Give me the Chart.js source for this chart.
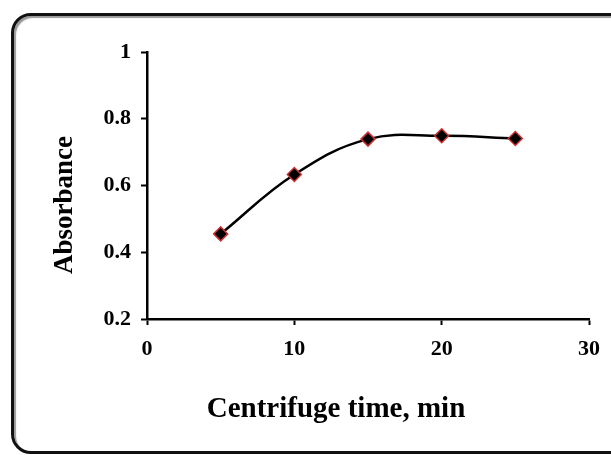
<!DOCTYPE html>
<html lang="en">
<head>
    <meta charset="UTF-8">
    <title>Centrifuge time</title>
    <script src="https://cdn.jsdelivr.net/npm/chart.js"></script>
    <style>
        html, body { margin: 0; padding: 0; background: #fff; }
        #wrap { position: relative; width: 611px; height: 455px; overflow: hidden; }
        #frame {
            position: absolute; left: 11px; top: 13px;
            width: 622px; height: 441px; box-sizing: border-box;
            border: 3px solid #111; border-radius: 20px;
            box-shadow: inset 2px 2px 1px #9a9a9a;
            pointer-events: none;
        }
        canvas { position: absolute; left: 0; top: 0; }
    </style>
</head>
<body>
    <div id="wrap">
        <canvas id="chart" width="611" height="455"></canvas>
        <div id="frame"></div>
    </div>
    <script>
        const times = [5, 10, 15, 20, 25];
        const absorbance = [0.455, 0.633, 0.739, 0.749, 0.741];
        const yTickLabels = ['0.2', '0.4', '0.6', '0.8', '1'];
        const xTickLabels = ['0', '10', '20', '30'];
        const xTitle = 'Centrifuge time, min';
        const yTitle = 'Absorbance';

        const serif = '"Liberation Serif", "Times New Roman", serif';

        // axis titles sit off-centre, so they are painted by hand
        const axisTitles = {
            id: 'axisTitles',
            afterDraw(chart) {
                const { ctx, chartArea } = chart;
                ctx.save();
                ctx.fillStyle = '#000';
                ctx.textAlign = 'center';
                ctx.textBaseline = 'alphabetic';
                ctx.font = 'bold 29px ' + serif;
                ctx.fillText(xTitle, chartArea.left + 189, chartArea.bottom + 98);
                ctx.font = 'bold 27px ' + serif;
                ctx.translate(chartArea.left - 75, chartArea.top + 153);
                ctx.rotate(-Math.PI / 2);
                ctx.fillText(yTitle, 0, 0);
                ctx.restore();
            }
        };

        const tickFont = { family: serif, size: 22, weight: 'bold' };

        new Chart(document.getElementById('chart'), {
            type: 'line',
            data: {
                datasets: [{
                    data: times.map((t, i) => ({ x: t, y: absorbance[i] })),
                    borderColor: '#000',
                    borderWidth: 2.5,
                    tension: 0.4,
                    pointStyle: 'rectRot',
                    pointRadius: 7,
                    pointBackgroundColor: '#000',
                    pointBorderColor: 'rgb(205, 50, 50)',
                    pointBorderWidth: 1.5
                }]
            },
            options: {
                responsive: false,
                animation: false,
                layout: { padding: { top: 52, right: 21, left: 0, bottom: 0 } },
                plugins: {
                    legend: { display: false },
                    tooltip: { enabled: false }
                },
                scales: {
                    x: {
                        type: 'linear',
                        min: 0,
                        max: 30,
                        afterFit: s => { s.height = 136; },
                        ticks: {
                            stepSize: 10,
                            color: '#000',
                            font: tickFont,
                            padding: 11,
                            maxRotation: 0,
                            callback: (v, i) => xTickLabels[i]
                        },
                        grid: {
                            drawOnChartArea: false,
                            drawTicks: true,
                            tickLength: 6,
                            tickWidth: 2,
                            tickColor: '#000'
                        },
                        border: { display: true, color: '#000', width: 2.5 }
                    },
                    y: {
                        min: 0.2,
                        max: 1,
                        afterFit: s => { s.width = 147; },
                        ticks: {
                            stepSize: 0.2,
                            color: '#000',
                            font: tickFont,
                            padding: 10,
                            callback: (v, i) => yTickLabels[i]
                        },
                        grid: {
                            drawOnChartArea: false,
                            drawTicks: true,
                            tickLength: 6,
                            tickWidth: 2,
                            tickColor: '#000'
                        },
                        border: { display: true, color: '#000', width: 2.5 }
                    }
                }
            },
            plugins: [axisTitles]
        });
    </script>
</body>
</html>
